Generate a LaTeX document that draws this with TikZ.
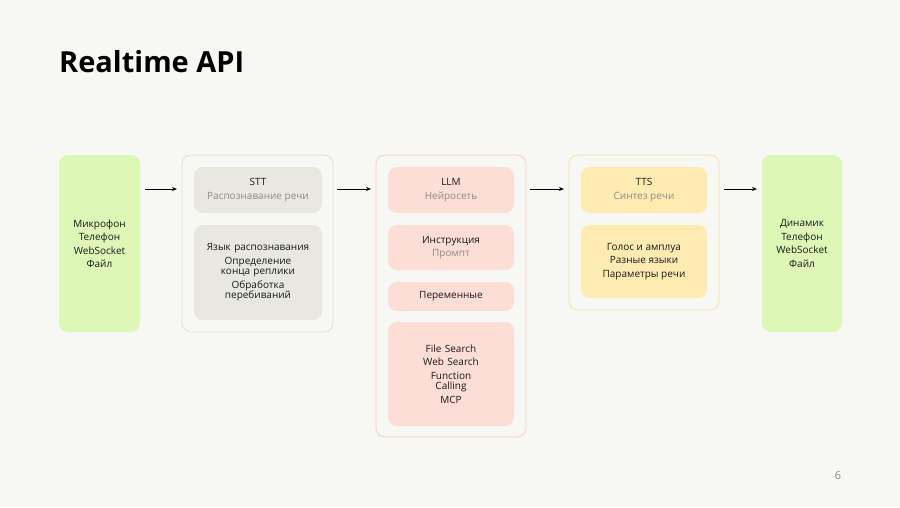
\documentclass[tikz,border=0pt]{standalone}
\usepackage{fontspec}
\setmainfont{Open Sans}
\usetikzlibrary{arrows.meta}
\definecolor{bg}{HTML}{F7F7F3}
\definecolor{grn}{HTML}{DCF7B6}
\definecolor{gin}{HTML}{E8E8E0}
\definecolor{gbd}{HTML}{E3E3DA}
\definecolor{pinkin}{HTML}{FDDED6}
\definecolor{pinkbd}{HTML}{F8CFC4}
\definecolor{yin}{HTML}{FEEBB2}
\definecolor{ybd}{HTML}{FAE2A8}
\definecolor{sub}{HTML}{8C8C88}
\begin{document}
\begin{tikzpicture}[x=1pt,y=-1pt,
  box/.style={rounded corners=9pt},
  txt/.style={font=\fontsize{10}{13.5}\selectfont,align=center,text=black!90},
  arr/.style={-{Stealth[length=5pt,width=4pt]},line width=0.8pt}]
\fill[bg] (0,0) rectangle (900,507);
\useasboundingbox (0,0) rectangle (900,507);
\node[anchor=west,font=\fontsize{29}{32}\bfseries\selectfont,inner xsep=0pt] (title) at (59,62) {Realtime API};
\node[text=sub,font=\fontsize{11}{13}\selectfont] (pg) at (838,476) {6};
% input
\fill[grn,box] (59,155) rectangle (140,332);
\node[txt] (in) at (99.5,243.5) {Микрофон\\Телефон\\WebSocket\\Файл};
% STT
\draw[gbd,fill=bg,box,line width=0.8pt] (182,155) rectangle (333,332);
\fill[gin,box] (194,167) rectangle (322,213);
\fill[gin,box] (194,225) rectangle (322,320);
\node[txt] (stt) at (258,190) {STT\\\textcolor{sub}{Распознавание речи}};
\node[txt,text width=130pt] (stt2) at (258,272.5) {Язык распознавания\\Определение\\[-3pt]конца реплики\\Обработка\\[-3pt]перебиваний};
% LLM
\draw[pinkbd,fill=bg,box,line width=0.8pt] (376,155) rectangle (526,437);
\fill[pinkin,box] (388,167) rectangle (514,213);
\fill[pinkin,box] (388,225) rectangle (514,270);
\fill[pinkin,box] (388,282) rectangle (514,311);
\fill[pinkin,box] (388,322) rectangle (514,426);
\node[txt] (llm) at (451,190) {LLM\\\textcolor{sub}{Нейросеть}};
\node[txt] (ins) at (451,247.5) {Инструкция\\\textcolor{sub}{Промпт}};
\node[txt] (var) at (451,296.5) {Переменные};
\node[txt,text width=120pt] (tools) at (451,374) {File Search\\Web Search\\Function\\[-3pt]Calling\\MCP};
% TTS
\draw[ybd,fill=bg,box,line width=0.8pt] (569,155) rectangle (719,310);
\fill[yin,box] (581,167) rectangle (707,213);
\fill[yin,box] (581,225) rectangle (707,298);
\node[txt] (tts) at (644,190) {TTS\\\textcolor{sub}{Синтез речи}};
\node[txt] (tts2) at (644,261.5) {Голос и амплуа\\Разные языки\\Параметры речи};
% output
\fill[grn,box] (762,155) rectangle (842,332);
\node[txt] (out) at (802,243.5) {Динамик\\Телефон\\WebSocket\\Файл};
% arrows
\coordinate (a1) at (145,189); \coordinate (b1) at (177,189);
\coordinate (a2) at (337,189); \coordinate (b2) at (371,189);
\coordinate (a3) at (530,189); \coordinate (b3) at (564,189);
\coordinate (a4) at (724,189); \coordinate (b4) at (757,189);
\draw[arr] (a1) -- (b1);
\draw[arr] (a2) -- (b2);
\draw[arr] (a3) -- (b3);
\draw[arr] (a4) -- (b4);
\end{tikzpicture}
\end{document}
